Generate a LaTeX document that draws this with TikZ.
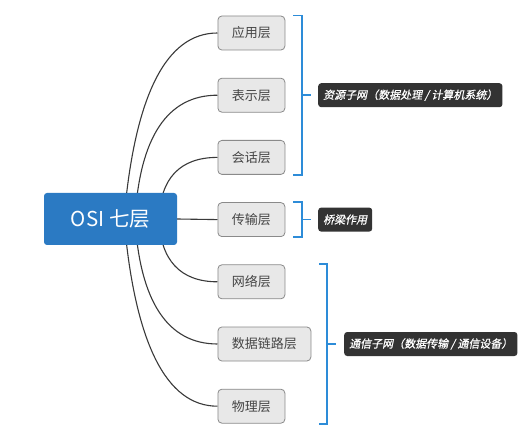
\documentclass[tikz,border=0pt]{standalone}
\usepackage{fontspec}
\setmainfont{Noto Sans CJK SC}
\newfontfamily\cjkslant[FakeSlant=0.2,FakeBold=0.8]{Noto Sans CJK SC}
\usetikzlibrary{backgrounds,calc}
\definecolor{rootblue}{HTML}{2B7AC3}
\definecolor{boxfill}{HTML}{E8E8E8}
\definecolor{boxline}{HTML}{8A8A8A}
\definecolor{textgray}{HTML}{454545}
\definecolor{connline}{HTML}{3A3A3A}
\definecolor{brkblue}{HTML}{2D8CD8}
\definecolor{labfill}{HTML}{333333}
\begin{document}
\begin{tikzpicture}[x=1pt,y=-1pt,
  rootbox/.style={fill=rootblue, rounded corners=3pt, text=white, font=\fontsize{20.5}{24}\selectfont, minimum width=133pt, minimum height=52pt, inner sep=0pt},
  layerbox/.style={fill=boxfill, draw=boxline, line width=0.8pt, rounded corners=4pt, text=textgray, font=\fontsize{13}{15}\selectfont, inner xsep=14pt, inner ysep=0pt, minimum height=34pt, anchor=west},
  labelbox/.style={fill=labfill, rounded corners=3pt, text=white, font=\cjkslant\fontsize{11}{13}\selectfont, inner xsep=5pt, inner ysep=0pt, minimum height=24pt, anchor=west},
  conn/.style={draw=connline, line width=1.1pt},
  brk/.style={draw=brkblue, line width=1.8pt},
]
\useasboundingbox (0,0) rectangle (527,438);

\node[rootbox] (root) at (110.5,219) {OSI 七层};

\node[layerbox] (l1) at (217.5,33) {应用层};
\node[layerbox] (l2) at (217.5,95.2) {表示层};
\node[layerbox] (l3) at (217.5,157.4) {会话层};
\node[layerbox] (l4) at (217.5,219.6) {传输层};
\node[layerbox] (l5) at (217.5,281.8) {网络层};
\node[layerbox] (l6) at (217.5,344) {数据链路层};
\node[layerbox] (l7) at (217.5,406.2) {物理层};

% connector start points (hidden behind the root box)
\coordinate (s1) at ([xshift=13.5pt]root.center);
\coordinate (s2) at ([xshift=24.5pt]root.center);
\coordinate (s3) at ([xshift=48.5pt]root.center);

\begin{scope}[on background layer]
  \fill[white] (0,0) rectangle (527,438);
  \draw[conn] (s1) .. controls +(10.7,-124) and +(-51.3,0) .. (l1.west);
  \draw[conn] (s2) .. controls +(4.7,-82) and +(-50,0) .. (l2.west);
  \draw[conn] (s3) .. controls +(1.3,-41) and +(-37.3,0) .. (l3.west);
  \draw[conn] (root.east) -- (l4.west);
  \draw[conn] (s3) .. controls +(1.3,41) and +(-37.3,0) .. (l5.west);
  \draw[conn] (s2) .. controls +(4.7,82) and +(-50,0) .. (l6.west);
  \draw[conn] (s1) .. controls +(10.7,124) and +(-51.3,0) .. (l7.west);
\end{scope}

% bracket x positions
\coordinate (ax1) at (293,0);
\coordinate (ax2) at (302,0);
\coordinate (ax3) at (311,0);
\coordinate (ax4) at (318,0);
\coordinate (cx1) at (319,0);
\coordinate (cx2) at (327,0);
\coordinate (cx3) at (336,0);
\coordinate (cx4) at (344,0);

\coordinate (m1) at ($(l1.north)!0.5!(l3.south)$);
\coordinate (m2) at ($(l4.north)!0.5!(l4.south)$);
\coordinate (m3) at ($(l5.north)!0.5!(l7.south)$);

\draw[brk] (ax1 |- l1.north) -- (ax2 |- l1.north) -- (ax2 |- l3.south) -- (ax1 |- l3.south);
\draw[brk] (ax2 |- m1) -- (ax3 |- m1);
\draw[brk] (ax1 |- l4.north) -- (ax2 |- l4.north) -- (ax2 |- l4.south) -- (ax1 |- l4.south);
\draw[brk] (ax2 |- m2) -- (ax3 |- m2);
\draw[brk] (cx1 |- l5.north) -- (cx2 |- l5.north) -- (cx2 |- l7.south) -- (cx1 |- l7.south);
\draw[brk] (cx2 |- m3) -- (cx3 |- m3);

\node[labelbox] (t1) at (ax4 |- m1) {资源子网（数据处理 / 计算机系统）};
\node[labelbox] (t2) at (ax4 |- m2) {桥梁作用};
\node[labelbox] (t3) at (cx4 |- m3) {通信子网（数据传输 / 通信设备）};
\end{tikzpicture}
\end{document}
